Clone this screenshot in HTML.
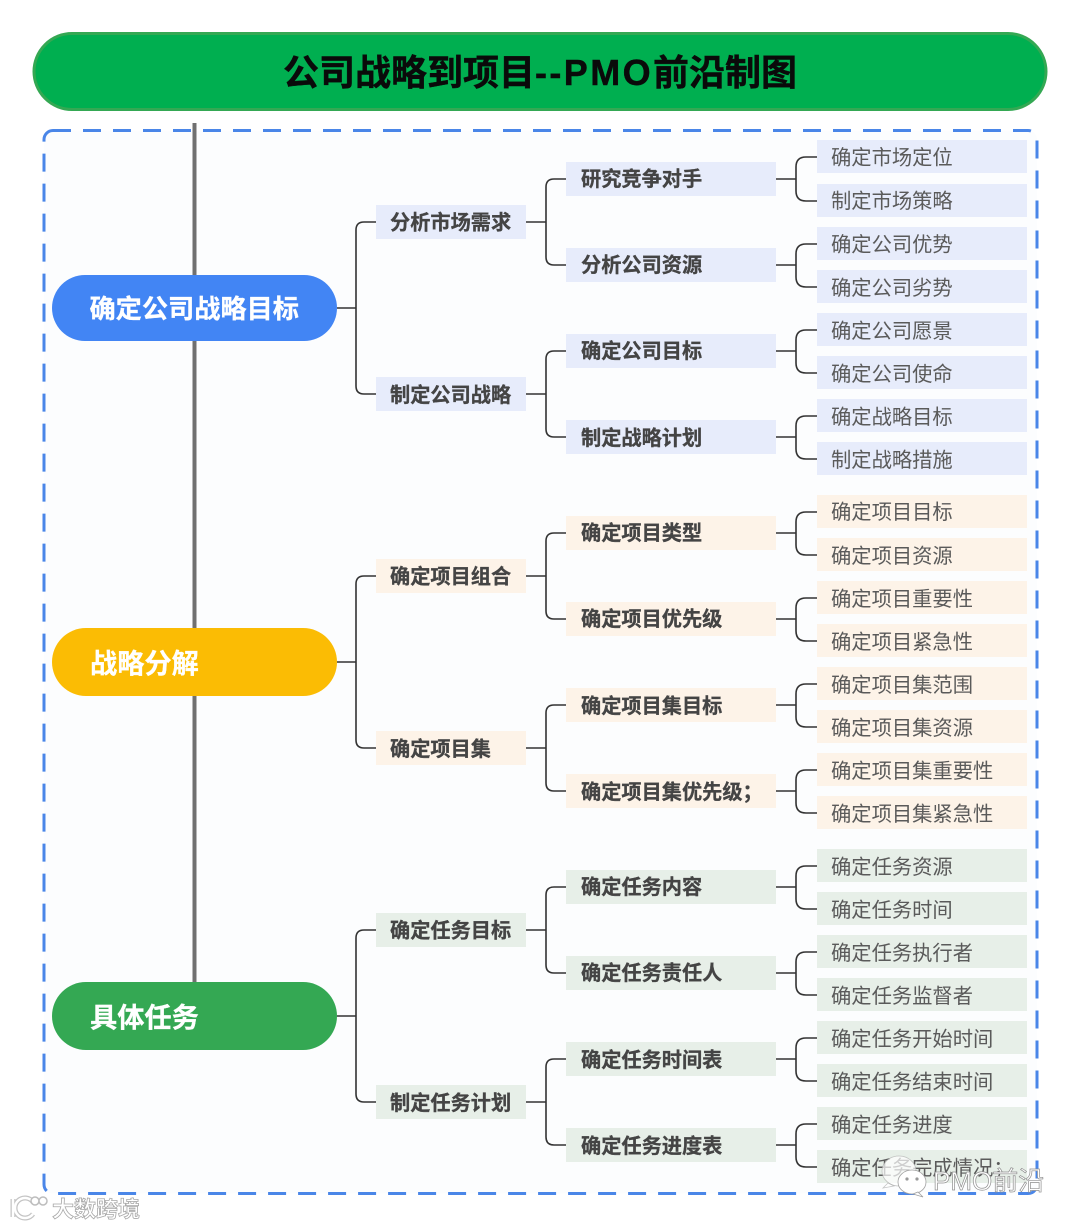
<!DOCTYPE html>
<html lang="zh"><head><meta charset="utf-8"><title>公司战略到项目</title>
<style>
html,body{margin:0;padding:0;background:#fff;width:1080px;height:1227px;overflow:hidden}
svg{display:block}
text{font-family:"Liberation Sans","Noto Sans CJK SC",sans-serif}
.l{font-size:20.3px;fill:#5a5a5a}
.m{font-size:20.2px;font-weight:700;fill:#444;stroke:#444;stroke-width:.3px}
.a{font-size:26.2px;font-weight:700;fill:#fff;stroke:#fff;stroke-width:.3px}
.a2{font-size:27.2px}
.c{fill:none;stroke:#333;stroke-width:1.6}
.b{fill:#e7ecfb}.o{fill:#fdf3e8}.g{fill:#e7efe8}
</style></head><body>
<svg width="1080" height="1227" viewBox="0 0 1080 1227" xmlns="http://www.w3.org/2000/svg">
<rect x="44" y="130.500" width="993" height="1063" rx="9" fill="#fcfdfe" stroke="#4a86e8" stroke-width="3" stroke-dasharray="18 12"/>
<rect x="34" y="33.500" width="1012" height="76" rx="38" fill="#00af50" stroke="#34a853" stroke-width="3"/>
<text x="283" y="85" font-size="36" font-weight="700" fill="#0a0a0a" stroke="#0a0a0a" stroke-width="0.400">公司战略到项目<tspan letter-spacing="2.400">--PMO</tspan>前沿制图</text>
<rect x="192.500" y="123" width="4" height="860" fill="#707070"/>

<!-- connectors -->
<path class="c" d="M337 308H356M376 222H364Q356 222 356 230V386Q356 394 364 394H376"/>
<path class="c" d="M337 662H356M376 576H364Q356 576 356 584V740Q356 748 364 748H376"/>
<path class="c" d="M337 1016H356M376 930H364Q356 930 356 938V1094Q356 1102 364 1102H376"/>
<path class="c" d="M526 222H546M566 179H554Q546 179 546 187V257Q546 265 554 265H566"/>
<path class="c" d="M526 394H546M566 351H554Q546 351 546 359V429Q546 437 554 437H566"/>
<path class="c" d="M526 576H546M566 533H554Q546 533 546 541V611Q546 619 554 619H566"/>
<path class="c" d="M526 748H546M566 705H554Q546 705 546 713V783Q546 791 554 791H566"/>
<path class="c" d="M526 930H546M566 887H554Q546 887 546 895V965Q546 973 554 973H566"/>
<path class="c" d="M526 1102H546M566 1059H554Q546 1059 546 1067V1137Q546 1145 554 1145H566"/>
<path class="c" d="M776 179H796M817 157H806Q796 157 796 167V191Q796 201 806 201H817"/>
<path class="c" d="M776 265H796M817 244H806Q796 244 796 254V277Q796 287 806 287H817"/>
<path class="c" d="M776 351H796M817 330H806Q796 330 796 340V363Q796 373 806 373H817"/>
<path class="c" d="M776 437H796M817 416H806Q796 416 796 426V449Q796 459 806 459H817"/>
<path class="c" d="M776 533H796M817 512H806Q796 512 796 522V545Q796 555 806 555H817"/>
<path class="c" d="M776 619H796M817 598H806Q796 598 796 608V631Q796 641 806 641H817"/>
<path class="c" d="M776 705H796M817 684H806Q796 684 796 694V717Q796 727 806 727H817"/>
<path class="c" d="M776 791H796M817 770H806Q796 770 796 780V803Q796 813 806 813H817"/>
<path class="c" d="M776 887H796M817 866H806Q796 866 796 876V899Q796 909 806 909H817"/>
<path class="c" d="M776 973H796M817 952H806Q796 952 796 962V985Q796 995 806 995H817"/>
<path class="c" d="M776 1059H796M817 1038H806Q796 1038 796 1048V1071Q796 1081 806 1081H817"/>
<path class="c" d="M776 1145H796M817 1124H806Q796 1124 796 1134V1157Q796 1167 806 1167H817"/>

<!-- level 1 -->
<rect x="52" y="275" width="285" height="66" rx="33" fill="#4285f4"/>
<text class="a" x="89.500" y="318">确定公司战略目标</text>
<rect x="52" y="628" width="285" height="68" rx="34" fill="#fbbc04"/>
<text class="a a2" x="90" y="673">战略分解</text>
<rect x="52" y="982" width="285" height="68" rx="34" fill="#34a853"/>
<text class="a a2" x="90" y="1027">具体任务</text>

<!-- level 2 -->
<rect class="b" x="376" y="205" width="150" height="34"/><text class="m" x="390" y="229.500">分析市场需求</text>
<rect class="b" x="376" y="377" width="150" height="34"/><text class="m" x="390" y="402">制定公司战略</text>
<rect class="o" x="376" y="559" width="150" height="34"/><text class="m" x="390" y="583.500">确定项目组合</text>
<rect class="o" x="376" y="731" width="150" height="34"/><text class="m" x="390" y="756">确定项目集</text>
<rect class="g" x="376" y="913" width="150" height="34"/><text class="m" x="390" y="937.500">确定任务目标</text>
<rect class="g" x="376" y="1085" width="150" height="34"/><text class="m" x="390" y="1110">制定任务计划</text>

<!-- level 3 -->
<rect class="b" x="566" y="162" width="210" height="34"/><text class="m" x="581" y="186">研究竞争对手</text>
<rect class="b" x="566" y="248" width="210" height="34"/><text class="m" x="581" y="272">分析公司资源</text>
<rect class="b" x="566" y="334" width="210" height="34"/><text class="m" x="581" y="358">确定公司目标</text>
<rect class="b" x="566" y="420" width="210" height="34"/><text class="m" x="581" y="445">制定战略计划</text>
<rect class="o" x="566" y="516" width="210" height="34"/><text class="m" x="581" y="540">确定项目类型</text>
<rect class="o" x="566" y="602" width="210" height="34"/><text class="m" x="581" y="626">确定项目优先级</text>
<rect class="o" x="566" y="688" width="210" height="34"/><text class="m" x="581" y="713">确定项目集目标</text>
<rect class="o" x="566" y="774" width="210" height="34"/><text class="m" x="581" y="799">确定项目集优先级；</text>
<rect class="g" x="566" y="870" width="210" height="34"/><text class="m" x="581" y="894">确定任务内容</text>
<rect class="g" x="566" y="956" width="210" height="34"/><text class="m" x="581" y="980">确定任务责任人</text>
<rect class="g" x="566" y="1042" width="210" height="34"/><text class="m" x="581" y="1067">确定任务时间表</text>
<rect class="g" x="566" y="1128" width="210" height="34"/><text class="m" x="581" y="1153">确定任务进度表</text>

<!-- leaves -->
<rect class="b" x="817" y="140" width="210" height="33"/><text class="l" x="831" y="164.500">确定市场定位</text>
<rect class="b" x="817" y="184" width="210" height="33"/><text class="l" x="831" y="208">制定市场策略</text>
<rect class="b" x="817" y="227" width="210" height="33"/><text class="l" x="831" y="251.500">确定公司优势</text>
<rect class="b" x="817" y="270" width="210" height="33"/><text class="l" x="831" y="295">确定公司劣势</text>
<rect class="b" x="817" y="313" width="210" height="33"/><text class="l" x="831" y="338">确定公司愿景</text>
<rect class="b" x="817" y="356" width="210" height="33"/><text class="l" x="831" y="381">确定公司使命</text>
<rect class="b" x="817" y="399" width="210" height="33"/><text class="l" x="831" y="424">确定战略目标</text>
<rect class="b" x="817" y="442" width="210" height="33"/><text class="l" x="831" y="467">制定战略措施</text>
<rect class="o" x="817" y="495" width="210" height="33"/><text class="l" x="831" y="519">确定项目目标</text>
<rect class="o" x="817" y="538" width="210" height="33"/><text class="l" x="831" y="563">确定项目资源</text>
<rect class="o" x="817" y="581" width="210" height="33"/><text class="l" x="831" y="606">确定项目重要性</text>
<rect class="o" x="817" y="624" width="210" height="33"/><text class="l" x="831" y="649">确定项目紧急性</text>
<rect class="o" x="817" y="667" width="210" height="33"/><text class="l" x="831" y="692">确定项目集范围</text>
<rect class="o" x="817" y="710" width="210" height="33"/><text class="l" x="831" y="735">确定项目集资源</text>
<rect class="o" x="817" y="753" width="210" height="33"/><text class="l" x="831" y="778">确定项目集重要性</text>
<rect class="o" x="817" y="796" width="210" height="33"/><text class="l" x="831" y="821">确定项目集紧急性</text>
<rect class="g" x="817" y="849" width="210" height="33"/><text class="l" x="831" y="874">确定任务资源</text>
<rect class="g" x="817" y="892" width="210" height="33"/><text class="l" x="831" y="917">确定任务时间</text>
<rect class="g" x="817" y="935" width="210" height="33"/><text class="l" x="831" y="960">确定任务执行者</text>
<rect class="g" x="817" y="978" width="210" height="33"/><text class="l" x="831" y="1003">确定任务监督者</text>
<rect class="g" x="817" y="1021" width="210" height="33"/><text class="l" x="831" y="1046">确定任务开始时间</text>
<rect class="g" x="817" y="1064" width="210" height="33"/><text class="l" x="831" y="1089">确定任务结束时间</text>
<rect class="g" x="817" y="1107" width="210" height="33"/><text class="l" x="831" y="1132">确定任务进度</text>
<rect class="g" x="817" y="1150" width="210" height="33"/><text class="l" x="831" y="1175">确定任务完成情况；</text>

<!-- watermarks -->
<g fill="#fff" stroke="#a0a0a0" stroke-width="0.800">
<ellipse cx="899" cy="1171" rx="17" ry="15" fill-opacity="0.7" stroke-opacity="0.6"/>
<path d="M888 1183l-5 5 11-2z" fill-opacity="0.7" stroke-opacity="0.6"/>
<ellipse cx="912" cy="1182" rx="14" ry="12"/>
<path d="M918 1192l5 5-10-3z"/>
</g>
<circle cx="907" cy="1179" r="1.600" fill="#999"/><circle cx="917" cy="1179" r="1.600" fill="#999"/>
<text x="933" y="1190" font-size="26" fill="#fff" stroke="#8f8f8f" stroke-width="0.700">PMO前沿</text>
<g fill="none" stroke="#c4c4c4" stroke-width="5">
<path d="M13 1199v18"/><path d="M33 1202a10 10 0 1 0 0 12"/>
</g>
<g fill="none" stroke="#fff" stroke-width="2.500">
<path d="M13 1199v18"/><path d="M33 1202a10 10 0 1 0 0 12"/>
</g>
<g fill="#fff" stroke="#bdbdbd" stroke-width="1.500">
<circle cx="35" cy="1201" r="4"/><circle cx="43" cy="1201" r="4"/>
</g>
<text x="52" y="1217" font-size="22" font-weight="700" fill="#fff" stroke="#a8a8a8" stroke-width="0.800">大数跨境</text>
</svg>
</body></html>
